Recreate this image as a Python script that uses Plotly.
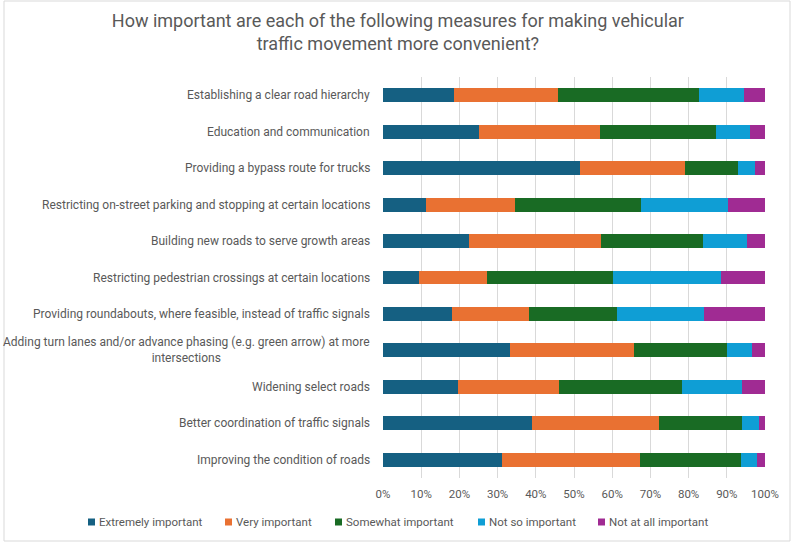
import plotly.graph_objects as go

# Survey measures, listed top to bottom
measures = [
    "Establishing a clear road hierarchy",
    "Education and communication",
    "Providing a bypass route for trucks",
    "Restricting on-street parking and stopping at certain locations",
    "Building new roads to serve growth areas",
    "Restricting pedestrian crossings at certain locations",
    "Providing roundabouts, where feasible, instead of traffic signals",
    "Adding turn lanes and/or advance phasing (e.g. green arrow) at more<br>intersections",
    "Widening select roads",
    "Better coordination of traffic signals",
    "Improving the condition of roads",
]

# Share of responses (%) for each importance level
extremely = [18.5, 25.2, 51.7, 11.3, 22.5, 9.4, 18.0, 33.2, 19.6, 39.1, 31.1]
very = [27.3, 31.6, 27.3, 23.3, 34.5, 17.9, 20.3, 32.4, 26.4, 33.1, 36.3]
somewhat = [36.9, 30.5, 13.9, 32.9, 26.8, 33.0, 23.0, 24.4, 32.4, 21.7, 26.3]
not_so = [11.8, 8.8, 4.6, 22.7, 11.5, 28.3, 22.7, 6.6, 15.5, 4.5, 4.2]
not_at_all = [5.5, 3.9, 2.5, 9.8, 4.7, 11.4, 16.0, 3.4, 6.1, 1.6, 2.1]

levels = ["Extremely important", "Very important", "Somewhat important",
          "Not so important", "Not at all important"]
colors = ["#156082", "#E97132", "#196B24", "#0F9ED5", "#A02B93"]
series = [extremely, very, somewhat, not_so, not_at_all]

tick_vals = [0, 10, 20, 30, 40, 50, 60, 70, 80, 90, 100]
tick_text = [f"{v}%" for v in tick_vals]

FONT = "Roboto, sans-serif"
GREY = "#595959"

W, H = 791, 544
ML, MR, MT, MB = 383, 26, 77, 66
PW, PH = W - ML - MR, H - MT - MB


def px_x(p):
    """pixel column -> paper x"""
    return (p - ML) / PW


def px_y(p):
    """pixel row -> paper y"""
    return 1 - (p - MT) / PH


fig = go.Figure()
for name, vals, col in zip(levels, series, colors):
    fig.add_trace(go.Bar(
        x=vals, y=measures, orientation="h", name=name,
        marker=dict(color=col, line=dict(width=0)),
        showlegend=False, hoverinfo="x+name",
    ))

# category labels, centred per line like a wrapped axis label
for m in measures:
    fig.add_annotation(
        x=0, y=m, xref="x", yref="y", text=m, showarrow=False,
        xanchor="right", align="center", xshift=-11,
        font=dict(family=FONT, size=12, color=GREY),
    )

# compact legend row under the axis: small colour keys with labels
legend_left = [88, 225, 335, 478, 598]
legend_row = 522
for left, name, col in zip(legend_left, levels, colors):
    fig.add_shape(
        type="rect", xref="paper", yref="paper",
        x0=px_x(left), x1=px_x(left + 7),
        y0=px_y(legend_row + 3.5), y1=px_y(legend_row - 3.5),
        fillcolor=col, line=dict(width=0),
    )
    fig.add_annotation(
        x=px_x(left + 9), y=px_y(legend_row), xref="paper", yref="paper",
        text=name, showarrow=False, xanchor="left", yanchor="middle",
        font=dict(family=FONT, size=11.5, color=GREY),
    )

# light frame around the chart
fig.add_shape(
    type="rect", xref="paper", yref="paper",
    x0=px_x(4), x1=px_x(790), y0=px_y(541), y1=px_y(1),
    line=dict(color="#d9d9d9", width=1), fillcolor="rgba(0,0,0,0)",
    layer="below",
)

fig.update_layout(
    width=W, height=H,
    barmode="stack", bargap=0.62,
    paper_bgcolor="white", plot_bgcolor="white",
    margin=dict(l=ML, r=MR, t=MT, b=MB, autoexpand=False),
    title=dict(
        text="How important are each of the following measures for making vehicular<br>traffic movement more convenient?",
        x=0.503, xanchor="center", y=0.951, yanchor="top",
        font=dict(family=FONT, size=18, color=GREY),
    ),
    xaxis=dict(
        range=[0, 100], tickvals=tick_vals, ticktext=tick_text,
        showgrid=True, gridcolor="#d9d9d9", gridwidth=1,
        zeroline=False, showline=False, ticks="",
        ticklabelstandoff=7,
        tickfont=dict(family=FONT, size=11.5, color=GREY),
        fixedrange=True,
    ),
    yaxis=dict(
        autorange="reversed", showticklabels=False, showgrid=False,
        zeroline=False, showline=False, ticks="", fixedrange=True,
    ),
    showlegend=False,
)

fig.write_html("out.html")
